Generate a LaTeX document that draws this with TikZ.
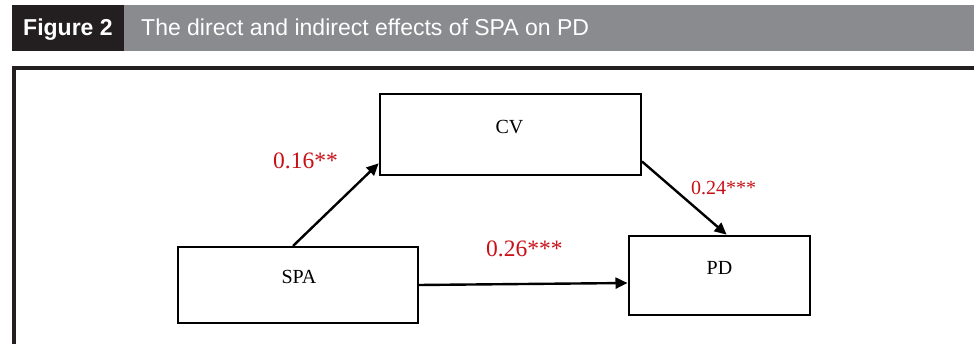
\documentclass[tikz,border=0pt]{standalone}
\usepackage{fontspec}
\setmainfont{Liberation Serif}
\newfontfamily\headfont{Liberation Sans}
\usetikzlibrary{arrows.meta}

\definecolor{headdark}{RGB}{35,31,32}
\definecolor{headgray}{RGB}{138,139,142}
\definecolor{coefred}{RGB}{200,16,22}

\tikzset{
  varbox/.style={draw=black, line width=2pt, inner sep=0pt},
  varname/.style={font=\fontsize{20}{24}\selectfont, inner sep=0pt, anchor=base},
  coef/.style={text=coefred, inner sep=0pt, anchor=base west},
  coefbig/.style={coef, font=\fontsize{23.5}{28}\selectfont},
  coefsmall/.style={coef, font=\fontsize{20}{24}\selectfont},
  path arrow/.style={line width=2.4pt, -{Triangle[length=12pt,width=11pt]}, shorten >=0.5pt},
}

\begin{document}
\begin{tikzpicture}[x=1pt, y=-1pt]
  \useasboundingbox (0,0) rectangle (974,344);

  % caption bar
  \fill[headdark] (12,5) rectangle (124,51);
  \fill[headgray] (124,5) rectangle (974,51);
  \node[anchor=base west, inner sep=0pt, text=white, font=\headfont\bfseries\fontsize{23}{27}\selectfont]
    (figlabel) at (23,36) {Figure 2};
  \node[anchor=base west, inner sep=0pt, text=white, font=\headfont\fontsize{23}{27}\selectfont]
    (figtitle) at (141,36) {The direct and indirect effects of SPA on PD};

  % panel frame
  \draw[headdark, line width=3.6pt] (14,344) -- (14,68) -- (974,68);

  % variable boxes
  \node[varbox, minimum width=261pt, minimum height=81pt] (cv)  at (510.5,134.5) {};
  \node[varbox, minimum width=240pt, minimum height=76pt] (spa) at (298,285) {};
  \node[varbox, minimum width=181pt, minimum height=79pt] (pd)  at (719.5,275.5) {};

  \node[varname] (cvtext)  at (509.5,134) {CV};
  \node[varname] (spatext) at (299,284) {SPA};
  \node[varname] (pdtext)  at (719.5,275) {PD};

  % paths
  \draw[path arrow] ([xshift=-5pt]spa.north) -- ([yshift=-28.5pt]cv.west);
  \draw[path arrow] ([yshift=-27pt]cv.east) -- ([xshift=7.5pt]pd.north);
  \draw[path arrow] (spa.east) -- ([yshift=-7.5pt]pd.west);

  % path coefficients
  \node[coefbig]   (a) at (273,169) {0.16**};
  \node[coefsmall] (b) at (691,195) {0.24***};
  \node[coefbig]   (c) at (486,257) {0.26***};
\end{tikzpicture}
\end{document}
